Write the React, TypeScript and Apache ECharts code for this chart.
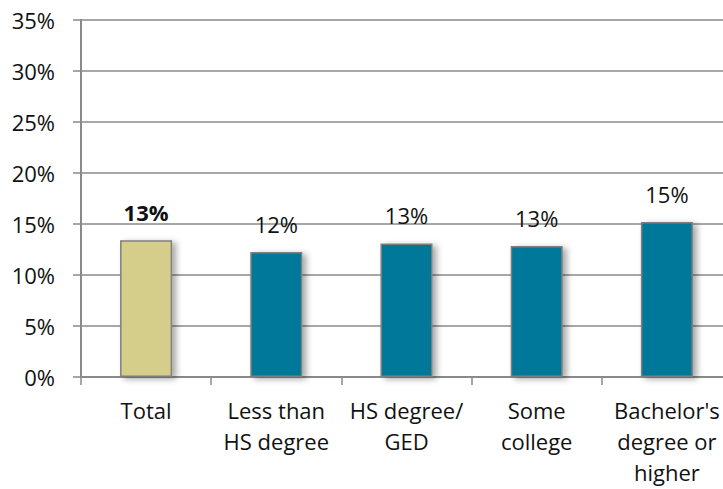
import React, { useEffect, useRef } from "react";
import * as echarts from "echarts";

const categories = [
  "Total",
  "Less than\nHS degree",
  "HS degree/\nGED",
  "Some\ncollege",
  "Bachelor's\ndegree or\nhigher",
];
const values = [13.4, 12.25, 13.1, 12.85, 15.2];
const barColors = ["#D5CD8A", "#00789A", "#00789A", "#00789A", "#00789A"];
const yTicks = [0, 5, 10, 15, 20, 25, 30, 35];

const FONT = "'Open Sans', 'Noto Sans', sans-serif";

export default function App() {
  const ref = useRef<HTMLDivElement>(null);
  useEffect(() => {
    document.body.style.margin = "0";
    const chart = echarts.init(ref.current!, null, { renderer: "svg" });
    chart.setOption({
      animation: false,
      backgroundColor: "#ffffff",
      grid: { left: 81, top: 20, height: 357, width: 651, containLabel: false },
      xAxis: {
        type: "category",
        data: categories,
        axisLine: { lineStyle: { color: "#8a8a8a", width: 2 } },
        axisTick: { show: true, length: 8, lineStyle: { color: "#8a8a8a", width: 1.5 } },
        axisLabel: {
          interval: 0,
          color: "#111",
          fontFamily: FONT,
          fontSize: 22,
          lineHeight: 31,
          margin: 17,
        },
      },
      yAxis: {
        type: "value",
        min: yTicks[0],
        max: yTicks[yTicks.length - 1],
        interval: 5,
        axisLine: { show: true, lineStyle: { color: "#8a8a8a", width: 2 } },
        axisTick: { show: true, length: 8, lineStyle: { color: "#8a8a8a", width: 1.5 } },
        splitLine: { lineStyle: { color: "#8a8a8a", width: 1.5 } },
        axisLabel: {
          color: "#111",
          fontFamily: FONT,
          fontSize: 22,
          margin: 26,
          formatter: (v: number) => `${v}%`,
        },
      },
      series: [
        {
          type: "bar",
          barWidth: "40%",
          data: values.map((v, i) => ({
            value: v,
            itemStyle: { color: barColors[i] },
            label: i === 0 ? { fontWeight: "bold" } : {},
          })),
          itemStyle: {
            borderColor: "#7f7f7f",
            borderWidth: 1.5,
            shadowBlur: 6,
            shadowOffsetX: 4,
            shadowOffsetY: 2,
            shadowColor: "rgba(0,0,0,0.35)",
          },
          label: {
            show: true,
            position: "top",
            distance: 17,
            color: "#111",
            fontFamily: FONT,
            fontSize: 22,
            formatter: (p: any) => `${Math.round(p.value)}%`,
          },
        },
      ],
    });
    return () => chart.dispose();
  }, []);
  return (
    <div style={{ width: 723, height: 489, overflow: "hidden", position: "relative" }}>
      <div ref={ref} style={{ width: 740, height: 489 }} />
    </div>
  );
}
